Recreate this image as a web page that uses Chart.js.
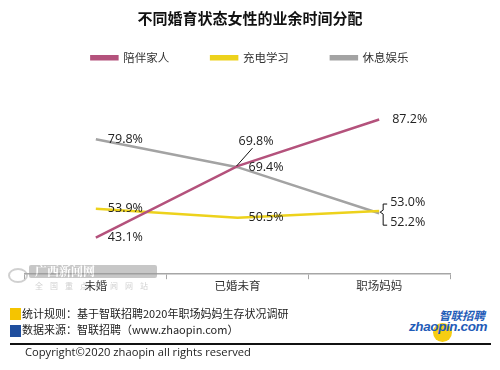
<!DOCTYPE html>
<html>
<head>
<meta charset="utf-8">
<script src="https://cdn.jsdelivr.net/npm/chart.js@4.4.1/dist/chart.umd.min.js"></script>
<style>
  body { margin: 0; background: #fff; font-family: "Noto Sans CJK SC", "Noto Sans", sans-serif; }
  #wrap { position: relative; width: 500px; height: 370px; overflow: hidden; }
  #chartBox { position: absolute; left: 0; top: 0; width: 500px; height: 293px; }
  .note { position: absolute; left: 22px; font-size: 11px; color: #222; line-height: 14px; }
  .sq { position: absolute; left: 10px; width: 11px; height: 12px; }
  #rule { position: absolute; left: 10px; top: 343px; width: 481px; height: 2px; background: #111; }
  #copy { position: absolute; left: 25px; top: 344px; font-size: 11.2px; color: #222; font-family: "Open Sans", "Noto Sans", sans-serif; }
  #logo { position: absolute; left: 406px; top: 302px; width: 84px; height: 40px; }
  #logo .dot { position: absolute; left: 27px; top: 21px; width: 19px; height: 19px; border-radius: 50%; background: #f6cd12; }
  #logo .cn { position: absolute; left: 33px; top: 6px; font-size: 11.5px; font-weight: bold; font-style: italic; color: #1f5cb8; line-height: 14px; }
  #logo .en { position: absolute; left: 3px; top: 17px; font-size: 13.5px; font-weight: bold; font-style: italic; color: #1f5cb8; font-family: "Liberation Sans", sans-serif; letter-spacing: -0.4px; line-height: 16px; }
  #mark { position: absolute; left: 5px; top: 263px; width: 152px; height: 30px; opacity: 0.55; pointer-events: none; white-space: nowrap; }
  #mark .bar { position: absolute; left: 24px; top: 2px; width: 128px; height: 13px; background: #9a9a9a; border-radius: 2px; }
  #mark .t1 { position: absolute; left: 30px; top: 0px; font-size: 12px; font-weight: bold; color: #fff; font-family: "Noto Serif CJK SC", "Noto Sans CJK SC", serif; line-height: 16px; }
  #mark .t2 { position: absolute; left: 30px; top: 17px; font-size: 8px; color: #aaa; letter-spacing: 7px; line-height: 12px; }
  #mark .eye { position: absolute; left: 3px; top: 5px; width: 16px; height: 11px; border: 2px solid #aaa; border-radius: 50%; }
</style>
</head>
<body>
<div id="wrap">
  <div id="chartBox"><canvas id="timeChart" width="500" height="293"></canvas></div>
  <div id="mark"><div class="eye"></div><div class="bar"></div><div class="t1">广西新闻网</div><div class="t2">全国重点新闻网站</div></div>
  <div class="sq" style="top:308px;background:#f5c400"></div>
  <div class="note" style="top:306px">统计规则：基于智联招聘2020年职场妈妈生存状况调研</div>
  <div class="sq" style="top:325px;background:#1f4e9e"></div>
  <div class="note" style="top:322px">数据来源：智联招聘（www.zhaopin.com）</div>
  <div id="logo"><div class="dot"></div><div class="cn">智联招聘</div><div class="en">zhaopin.com</div></div>
  <div id="rule"></div>
  <div id="copy">Copyright©2020 zhaopin all rights reserved</div>
</div>
<script>
const categories = ['未婚', '已婚未育', '职场妈妈']
const familyTime = [43.1, 69.8, 87.2]
const studyTime = [53.9, 50.5, 53.0]
const leisureTime = [79.8, 69.4, 52.2]

// where each value label sits relative to its point: [dx, dy]
const labelOffsets = {
    0: [[12, 0], [1, -25], [13, 0]],
    1: [[12, 0], [11, 0], [11, -9]],
    2: [[12, 0], [11, 0], [11, 9]],
}

const valueLabels = {
    id: 'valueLabels',
    afterDatasetsDraw(chart) {
        const ctx = chart.ctx
        ctx.save()
        ctx.font = '12.5px "Open Sans", "Noto Sans", sans-serif'
        ctx.fillStyle = '#222'
        ctx.textBaseline = 'middle'
        ctx.textAlign = 'left'
        chart.data.datasets.forEach((ds, i) => {
            chart.getDatasetMeta(i).data.forEach((pt, j) => {
                const off = labelOffsets[i][j]
                ctx.fillText(ds.data[j].toFixed(1) + '%', pt.x + off[0], pt.y + off[1])
            })
        })
        // leader line for 69.8%
        const p = chart.getDatasetMeta(0).data[1]
        ctx.strokeStyle = '#111'
        ctx.lineWidth = 1
        ctx.beginPath()
        ctx.moveTo(p.x - 1, p.y)
        ctx.lineTo(p.x + 15, p.y - 18)
        ctx.stroke()
        // bracket for 53.0% / 52.2%
        const a = chart.getDatasetMeta(1).data[2]
        const b = chart.getDatasetMeta(2).data[2]
        const top = a.y - 7, bot = b.y + 12, mid = (a.y + b.y) / 2
        ctx.beginPath()
        ctx.moveTo(a.x + 8, top)
        ctx.lineTo(a.x + 4, top)
        ctx.lineTo(a.x + 4, mid - 2)
        ctx.lineTo(a.x + 1, mid)
        ctx.lineTo(a.x + 4, mid + 2)
        ctx.lineTo(a.x + 4, bot)
        ctx.lineTo(a.x + 8, bot)
        ctx.stroke()
        ctx.restore()
    }
}

const lineStyle = {
    pointRadius: 0,
    borderWidth: 2.5,
    tension: 0,
    fill: false,
}

// invisible side axes that only reserve room left and right of the plot
const spacer = (pos, w) => ({
    position: pos,
    display: true,
    grid: { display: false },
    border: { display: false },
    ticks: { display: false },
    afterFit: (s) => { s.width = w },
})

new Chart(document.getElementById('timeChart'), {
    type: 'line',
    data: {
        labels: categories,
        datasets: [
            { label: '陪伴家人', data: familyTime, borderColor: '#b4527c', backgroundColor: '#b4527c', ...lineStyle },
            { label: '充电学习', data: studyTime, borderColor: '#edd21c', backgroundColor: '#edd21c', ...lineStyle },
            { label: '休息娱乐', data: leisureTime, borderColor: '#a3a3a3', backgroundColor: '#a3a3a3', ...lineStyle },
        ]
    },
    options: {
        responsive: false,
        animation: false,
        layout: { padding: 0 },
        plugins: {
            title: {
                display: true,
                text: '不同婚育状态女性的业余时间分配',
                color: '#111',
                font: { family: '"Noto Sans CJK SC"', size: 15, weight: 'bold' },
                padding: { top: 9, bottom: -17 },
            },
            legend: {
                labels: {
                    boxWidth: 26,
                    boxHeight: 3,
                    padding: 42,
                    color: '#333',
                    font: { family: '"Noto Sans CJK SC"', size: 11.5 },
                }
            },
            tooltip: { enabled: false },
        },
        scales: {
            x: {
                offset: true,
                grid: { offset: true, drawOnChartArea: false, tickLength: 5, color: '#a6a6a6' },
                border: { color: '#a6a6a6', width: 1.5 },
                ticks: { color: '#333', font: { family: '"Noto Sans CJK SC"', size: 11.5 }, padding: 0 },
            },
            y: { ...spacer('left', 25), min: 29.4, max: 104.4 },
            yRight: { ...spacer('right', 50), min: 0, max: 1 },
        }
    },
    plugins: [valueLabels]
})
</script>
</body>
</html>
